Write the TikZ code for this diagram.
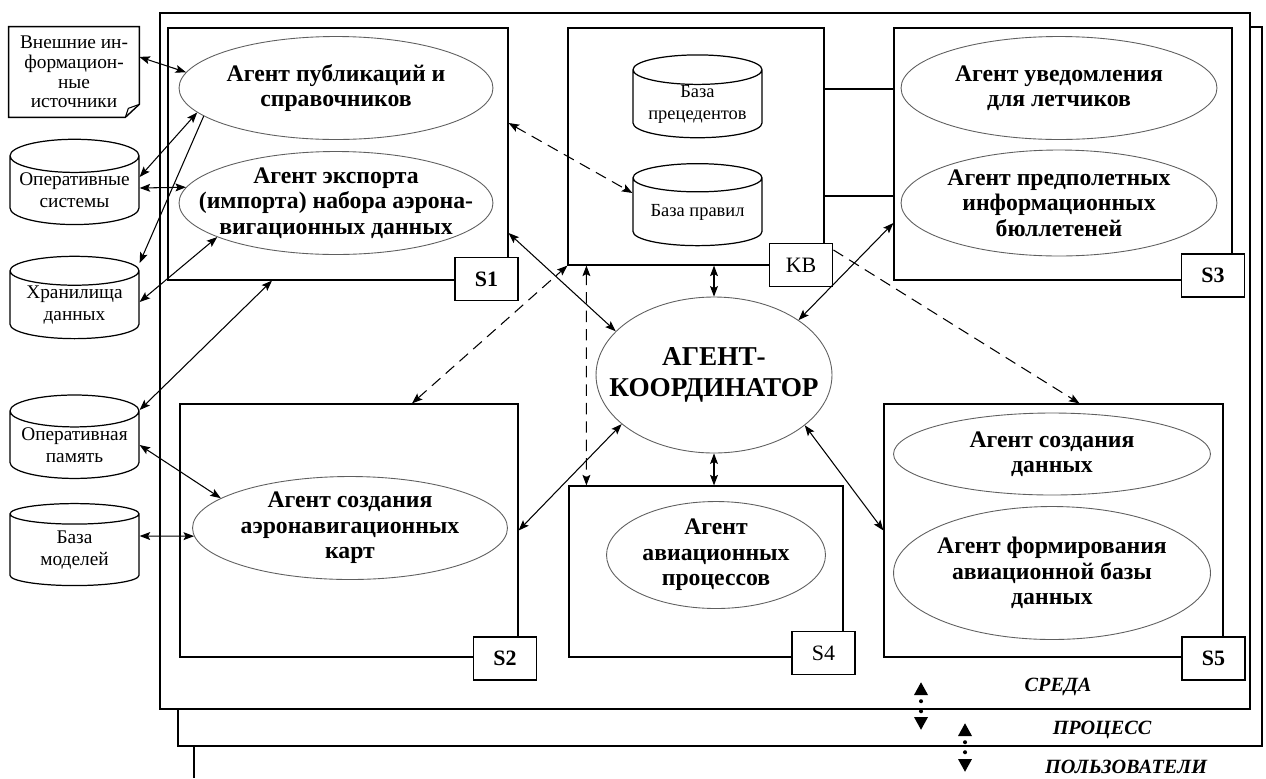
\documentclass[tikz,border=0pt]{standalone}
\usepackage{fontspec}
\setmainfont{Liberation Serif}
\usetikzlibrary{calc,arrows.meta,shapes.geometric}
\definecolor{agentLine}{RGB}{95,95,95}
\tikzset{
  >={Stealth[length=6pt,width=4.5pt,inset=1.2pt]},
  box/.style 2 args={draw, line width=0.7pt, fill=white, minimum width=#1, minimum height=#2, inner sep=0pt},
  tag/.style={draw, line width=1.1pt, fill=white, minimum width=1.26cm, minimum height=0.86cm, inner sep=0pt, font=\fontsize{12.5}{14}\selectfont\bfseries},
  agent/.style 2 args={ellipse, draw=agentLine, line width=0.5pt, fill=white, minimum width=#1, minimum height=#2, inner sep=-30pt, align=center, font=\fontsize{13.5}{14.5}\selectfont\bfseries},
  dbase/.style 2 args={cylinder, shape border rotate=90, aspect=0.3, draw, line width=0.7pt, fill=white, minimum width=#1, minimum height=#2, inner sep=0pt, align=center, font=\fontsize{11}{12.5}\selectfont},
  layertxt/.style={font=\fontsize{11.5}{13}\selectfont\bfseries\itshape},
  link/.style={<->, line width=0.6pt},
  hint/.style={dash pattern=on 6.5pt off 4pt},
  levelarrow/.style={{Triangle[length=7.4pt,width=7.4pt]}-{Triangle[length=7.4pt,width=7.4pt]}, line width=2.3pt, line cap=round, dash pattern=on 0pt off 5.7pt, dash phase=1.7pt}
}

\begin{document}
\begin{tikzpicture}[x=0.02cm,y=-0.02cm]
\useasboundingbox (0,0) rectangle (1266,778);
\draw[line width=1.6pt] (194,746) -- (194,778);
\draw[line width=1.2pt, fill=white] (178,27) rectangle (1262,746);
\draw[line width=0.7pt, fill=white] (160,13) rectangle (1250,709);

\node[box={6.8cm}{5.04cm}] (S1box) at (338,154) {};
\node[box={5.12cm}{4.74cm}] (KBbox) at (696,146.5) {};
\node[box={6.76cm}{5.04cm}] (S3box) at (1063,154) {};
\node[box={6.76cm}{5.06cm}] (S2box) at (349,530.5) {};
\node[box={5.48cm}{3.42cm}] (S4box) at (706,571.5) {};
\node[box={6.78cm}{5.06cm}] (S5box) at (1053.5,530.5) {};

\node[agent={6.28cm}{2.06cm}] (pubAgent) at (336,88) {Агент публикаций и\\справочников};
\node[agent={6.28cm}{2.06cm}] (expAgent) at (336,203) {Агент экспорта\\(импорта) набора аэрона-\\вигационных данных};
\node[agent={6.32cm}{2.06cm}] (notamAgent) at (1059,88) {Агент уведомления\\для летчиков};
\node[agent={6.32cm}{2.12cm}] (pibAgent) at (1059,203) {Агент предполетных\\информационных\\бюллетеней};
\node[agent={4.72cm}{3.12cm}, font=\fontsize{15.5}{17.5}\selectfont\bfseries] (coord) at (714,375) {АГЕНТ-\\КООРДИНАТОР};
\node[agent={6.3cm}{2.06cm}] (chartAgent) at (350,528) {Агент создания\\аэронавигационных\\карт};
\node[agent={4.38cm}{2.14cm}] (procAgent) at (716,555) {Агент\\авиационных\\процессов};
\node[agent={6.34cm}{1.64cm}] (dataAgent) at (1052,454) {Агент создания\\данных};
\node[agent={6.34cm}{2.66cm}] (dbAgent) at (1052,573) {Агент формирования\\авиационной базы\\данных};

\node[dbase={2.58cm}{1.64cm}, font=\fontsize{10.5}{12.5}\selectfont] (precBase) at (697.5,104) {База\\прецедентов};
\node[dbase={2.58cm}{1.64cm}, font=\fontsize{10.5}{12.5}\selectfont] (ruleBase) at (697.5,212) {База правил};

\node[minimum width=2.6cm, minimum height=1.8cm, inner sep=0pt, align=center, font=\fontsize{11}{11.2}\selectfont] (extSrc) at (74,72) {Внешние ин-\\формацион-\\ные\\источники};
\draw[line width=0.8pt] (extSrc.north west) -- (extSrc.north east) -- ($(extSrc.south east)+(0,-13)$) -- ($(extSrc.south east)+(-14,0)$) -- (extSrc.south west) -- cycle;
\draw[line width=0.6pt] ($(extSrc.south east)+(-14,0)$) -- ($(extSrc.south east)+(-11,-9)$) -- ($(extSrc.south east)+(0,-13)$);
\node[dbase={2.58cm}{1.66cm}] (opSys) at (74.5,190.5) {Оперативные\\системы};
\node[dbase={2.58cm}{1.6cm}] (dataStore) at (74.5,305) {Хранилища\\данных};
\node[dbase={2.58cm}{1.64cm}] (ramBase) at (74.5,445) {Оперативная\\память};
\node[dbase={2.58cm}{1.64cm}] (modelBase) at (74.5,550) {База\\моделей};

\node[tag] (S1tag) at (486.5,279) {S1};
\node[tag, font=\fontsize{12.5}{14}\selectfont] (KBtag) at (801,265) {KB};
\node[tag] (S3tag) at (1213,275.5) {S3};
\node[tag] (S2tag) at (505,658.5) {S2};
\node[tag, font=\fontsize{12.5}{14}\selectfont] (S4tag) at (823.5,653) {S4};
\node[tag] (S5tag) at (1213.5,658.5) {S5};

\coordinate (kbTop) at ($(KBbox.east)+(0,-57.5)$);
\coordinate (kbLow) at ($(KBbox.east)+(0,49.5)$);
\draw[line width=0.7pt] (kbTop) -- (kbTop -| S3box.west);
\draw[line width=0.7pt] (kbLow) -- (kbLow -| S3box.west);

\draw[link] (extSrc.13) -- (pubAgent.174);
\draw[link] (pubAgent.190) -- ($(opSys.east)+(0,-13.5)$);
\draw[link] ($(opSys.east)+(0,-2.5)$) -- (expAgent.174);
\draw[->, line width=0.6pt] (pubAgent.192) -- ($(dataStore.east)+(0,-42)$);
\draw[link] ($(dataStore.east)+(0,-3)$) -- (expAgent.196);
\draw[link] ($(ramBase.east)+(0,-35)$) -- ($(S1box.south)+(-66,0)$);
\draw[link] (ramBase.east) -- (chartAgent.167);
\draw[link] ($(modelBase.east)+(0,-14)$) -- (chartAgent.183);
\draw[link, hint] ($(S1box.east)+(0,-31)$) -- ($(ruleBase.west)+(0,-19)$);
\draw[link] ($(S1box.east)+(0,79)$) -- (coord.156);
\draw[link, hint] ($(S2box.north)+(63,0)$) -- (KBbox.south west);
\draw[link, hint] ($(KBbox.south west)+(19,0)$) -- ($(S4box.north west)+(18,0)$);
\draw[link] (KBbox.south -| coord.north) -- (coord.north);
\draw[link] (coord.south) -- (S4box.north -| coord.south);
\draw[link] (coord.208) -- (S2box.east);
\draw[link] (coord.33) -- ($(S3box.west)+(0,69)$);
\draw[->, line width=0.6pt, hint] ($(KBtag.east)+(0,-15)$) -- ($(S5box.north)+(26,0)$);
\draw[link] (coord.331) -- (S5box.west);

\node[layertxt] (envTxt) at (1058,687) {СРЕДА};
\node[layertxt] (procTxt) at (1102,730) {ПРОЦЕСС};
\node[layertxt] (userTxt) at (1126,767) {ПОЛЬЗОВАТЕЛИ};
\coordinate (envUp) at (921,682);
\coordinate (envDn) at (921,730);
\coordinate (procUp) at (965,723);
\coordinate (procDn) at (965,772);
\draw[levelarrow] (envUp) -- (envDn);
\draw[levelarrow] (procUp) -- (procDn);
\end{tikzpicture}
\end{document}
